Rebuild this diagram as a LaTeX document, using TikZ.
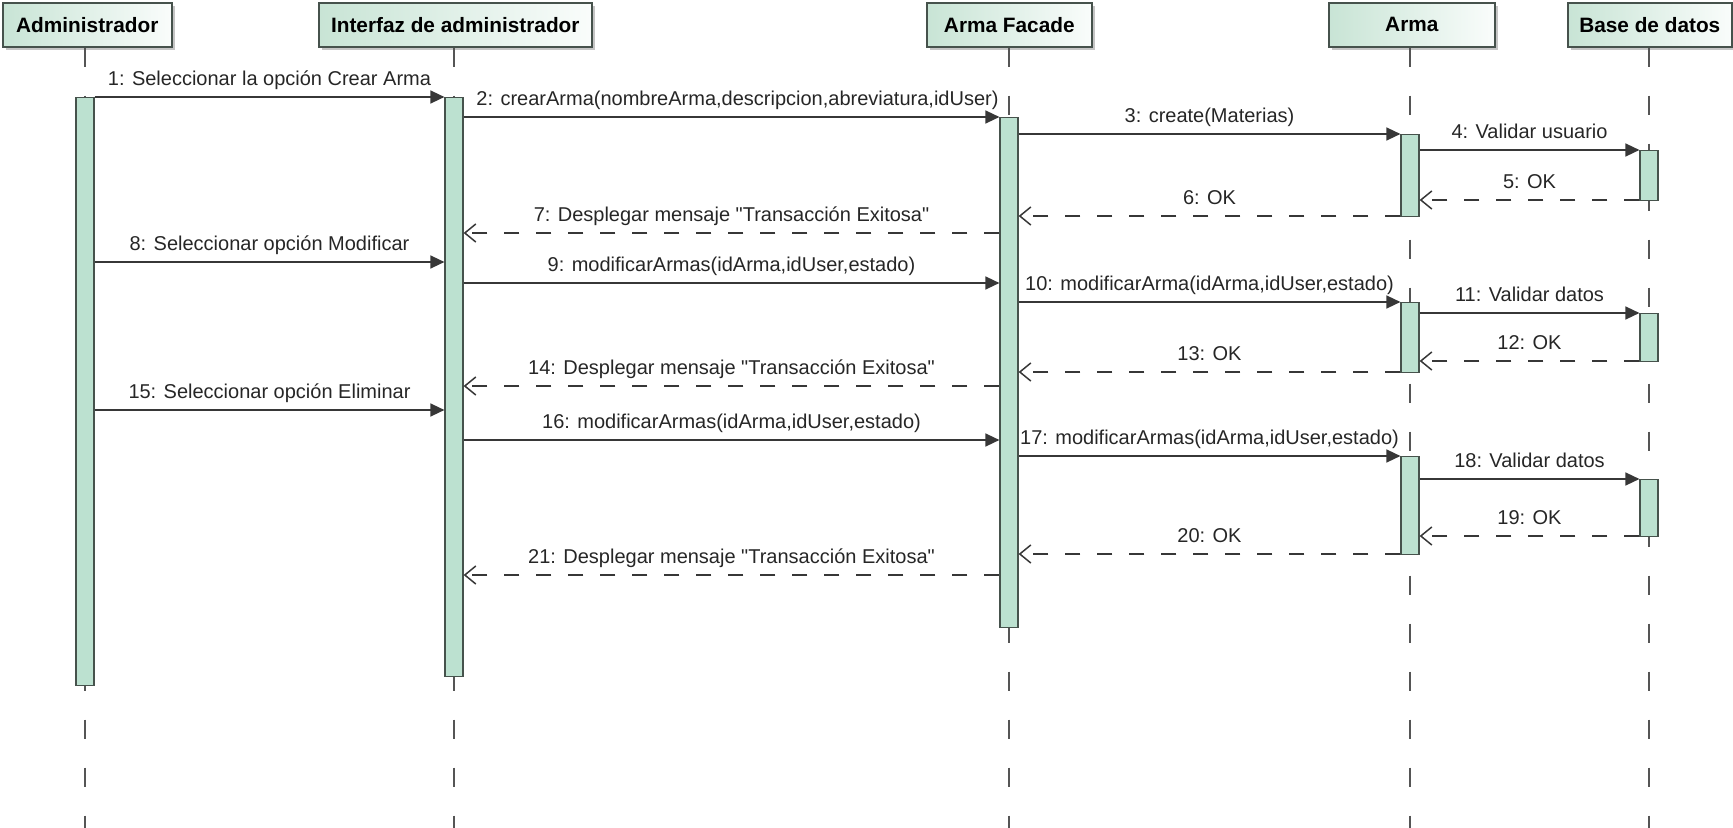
\documentclass[tikz,border=0pt]{standalone}
\usepackage{fontspec}
\setmainfont{Liberation Sans}[Ligatures=TeXOff]
\usetikzlibrary{arrows.meta,shadows}

\definecolor{mint}{RGB}{188,225,208}
\definecolor{mintlight}{RGB}{200,228,213}
\definecolor{ink}{RGB}{55,55,55}
\definecolor{frame}{RGB}{70,82,76}

\tikzset{
  head/.style={draw=frame, line width=0.8pt, left color=mintlight, right color=white!92!mint,
    minimum height=22pt, anchor=north west, inner sep=0pt,
    font=\bfseries\fontsize{10.4}{12}\selectfont,
    drop shadow={shadow xshift=1.6pt, shadow yshift=-1.6pt, fill=black!45, opacity=0.5}},
  bar/.style={draw=frame, fill=mint, line width=0.6pt, minimum width=9pt,
    inner sep=0pt, anchor=north},
  lifeline/.style={draw=ink!85, line width=0.7pt, dash pattern=on 9.5pt off 14.5pt},
  msg/.style={draw=ink, line width=0.75pt, -{Triangle[length=7pt,width=6.5pt]}},
  ret/.style={draw=ink, line width=0.75pt, dash pattern=on 7.5pt off 8.5pt,
    -{Straight Barb[length=5.5pt,width=9pt]}},
  lab/.style={font=\fontsize{10}{12}\selectfont, text=black!85, inner sep=1.5pt,
    text height=7.5pt, text depth=2pt, above=2pt}
}

\begin{document}
\begin{tikzpicture}[x=0.5pt,y=-0.5pt]
\useasboundingbox (0,0) rectangle (1733,828);

% participant heads
\node[head, minimum width=84.5pt]  (hA) at (2,2)    {Administrador};
\node[head, minimum width=136.5pt] (hI) at (318,2)  {Interfaz de administrador};
\node[head, minimum width=82.5pt]  (hF) at (926,2)  {Arma Facade};
\node[head, minimum width=83pt]    (hR) at (1328,2) {Arma};
\node[head, minimum width=82pt]    (hB) at (1567,2) {Base de datos};

% lifeline ends
\coordinate (eA) at (85,828);
\coordinate (eI) at (454,828);
\coordinate (eF) at (1009,828);
\coordinate (eR) at (1410,828);
\coordinate (eB) at (1649,828);

\draw[lifeline] (hA.south -| eA) -- (eA);
\draw[lifeline] (hI.south -| eI) -- (eI);
\draw[lifeline] (hF.south -| eF) -- (eF);
\draw[lifeline] (hR.south -| eR) -- (eR);
\draw[lifeline] (hB.south -| eB) -- (eB);

% activation bars
\node[bar, minimum height=294pt]   (bA)  at (85,97)   {};
\node[bar, minimum height=289.5pt] (bI)  at (454,97)  {};
\node[bar, minimum height=255pt]   (bF)  at (1009,117) {};
\node[bar, minimum height=41pt]    (bR1) at (1410,134) {};
\node[bar, minimum height=25pt]    (bB1) at (1649,150) {};
\node[bar, minimum height=35pt]    (bR2) at (1410,302) {};
\node[bar, minimum height=24pt]    (bB2) at (1649,313) {};
\node[bar, minimum height=49pt]    (bR3) at (1410,456) {};
\node[bar, minimum height=28.5pt]  (bB3) at (1649,479) {};

% messages
\draw[msg] (bA.east |- 0,97)   -- node[lab, midway] {1: Seleccionar la opción Crear Arma} (bI.west |- 0,97);
\draw[msg] (bI.east |- 0,117)  -- node[lab, midway, xshift=3pt] {2: crearArma(nombreArma,descripcion,abreviatura,idUser)} (bF.west |- 0,117);
\draw[msg] (bF.east |- 0,134)  -- node[lab, midway] {3: create(Materias)} (bR1.west |- 0,134);
\draw[msg] (bR1.east |- 0,150) -- node[lab, midway] {4: Validar usuario} (bB1.west |- 0,150);
\draw[ret] (bB1.west |- 0,200) -- node[lab, midway] {5: OK} (bR1.east |- 0,200);
\draw[ret] (bR1.west |- 0,216) -- node[lab, midway] {6: OK} (bF.east |- 0,216);
\draw[ret] (bF.west |- 0,233)  -- node[lab, midway] {7: Desplegar mensaje "Transacción Exitosa"} (bI.east |- 0,233);
\draw[msg] (bA.east |- 0,262)  -- node[lab, midway] {8: Seleccionar opción Modificar} (bI.west |- 0,262);
\draw[msg] (bI.east |- 0,283)  -- node[lab, midway] {9: modificarArmas(idArma,idUser,estado)} (bF.west |- 0,283);
\draw[msg] (bF.east |- 0,302)  -- node[lab, midway] {10: modificarArma(idArma,idUser,estado)} (bR2.west |- 0,302);
\draw[msg] (bR2.east |- 0,313) -- node[lab, midway] {11: Validar datos} (bB2.west |- 0,313);
\draw[ret] (bB2.west |- 0,361) -- node[lab, midway] {12: OK} (bR2.east |- 0,361);
\draw[ret] (bR2.west |- 0,372) -- node[lab, midway] {13: OK} (bF.east |- 0,372);
\draw[ret] (bF.west |- 0,386)  -- node[lab, midway] {14: Desplegar mensaje "Transacción Exitosa"} (bI.east |- 0,386);
\draw[msg] (bA.east |- 0,410)  -- node[lab, midway] {15: Seleccionar opción Eliminar} (bI.west |- 0,410);
\draw[msg] (bI.east |- 0,440)  -- node[lab, midway] {16: modificarArmas(idArma,idUser,estado)} (bF.west |- 0,440);
\draw[msg] (bF.east |- 0,456)  -- node[lab, midway] {17: modificarArmas(idArma,idUser,estado)} (bR3.west |- 0,456);
\draw[msg] (bR3.east |- 0,479) -- node[lab, midway] {18: Validar datos} (bB3.west |- 0,479);
\draw[ret] (bB3.west |- 0,536) -- node[lab, midway] {19: OK} (bR3.east |- 0,536);
\draw[ret] (bR3.west |- 0,554) -- node[lab, midway] {20: OK} (bF.east |- 0,554);
\draw[ret] (bF.west |- 0,575)  -- node[lab, midway] {21: Desplegar mensaje "Transacción Exitosa"} (bI.east |- 0,575);
\end{tikzpicture}
\end{document}
